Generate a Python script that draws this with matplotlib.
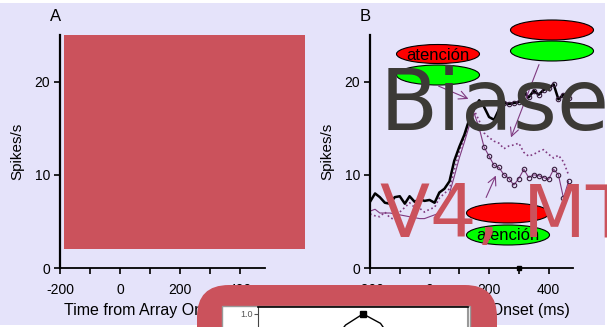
import numpy as np
import matplotlib
matplotlib.use("Agg")
import matplotlib.pyplot as plt
from matplotlib.patches import Ellipse, Rectangle, FancyBboxPatch, FancyArrowPatch

plt.rcParams['font.family'] = ['Liberation Sans', 'DejaVu Sans']

# ---------------- data ----------------
t_ms = [-200, -183, -167, -150, -133, -117, -100, -83, -67, -50, -33, -17, 0,
        17, 33, 50, 67, 83, 100, 117, 133, 150, 167, 183, 200, 217, 233, 250,
        267, 283, 300, 317, 333, 350, 367, 383, 400, 417, 433, 450, 467]
black_rate = [7.1, 8.0, 7.6, 7.0, 6.9, 7.6, 7.7, 6.9, 7.7, 7.1, 7.4, 7.2, 7.3,
              7.0, 8.1, 8.5, 9.3, 11.5, 13.0, 14.3, 15.9, 17.2, 18.0, 17.3, 16.2,
              15.9, 17.0, 17.7, 17.6, 17.7, 17.8, 18.8, 18.3, 19.0, 18.6, 19.1,
              19.3, 19.7, 18.1, 18.6, 18.2]
circle_rate = [6.1, 6.3, 5.9, 5.9, 5.9, 5.8, 5.7, 5.6, 5.5, 5.4, 5.3, 5.3, 5.5,
               5.7, 5.9, 6.6, 8.0, 9.8, 11.8, 13.5, 15.2, 16.6, 15.0, 13.0, 12.0,
               11.0, 10.8, 10.0, 9.6, 8.9, 9.6, 10.6, 9.7, 10.0, 9.9, 9.7, 9.5,
               10.6, 10.0, 7.5, 9.3]
dotted_rate = [5.8, 5.6, 5.5, 6.0, 5.4, 5.2, 6.0, 6.5, 7.0, 6.5, 6.4, 6.0, 6.3,
               6.5, 7.5, 8.0, 8.5, 10.5, 12.5, 14.0, 15.5, 16.9, 15.8, 14.5, 14.0,
               13.6, 13.4, 12.8, 13.1, 13.2, 13.4, 12.4, 12.0, 12.2, 12.5, 12.7,
               12.2, 11.8, 12.1, 11.4, 10.0]
x_ticks = [-200, -100, 0, 100, 200, 300, 400]
x_ticklabels = ['-200', '', '0', '', '200', '', '400']
y_ticks = [0, 10, 20]
inset_dirs = [-90, -60, -30, 0, 30, 60, 90]
inset_resp = [0.3, 0.6, 0.87, 1.0, 0.89, 0.6, 0.3]

# ---------------- figure ----------------
W, H = 607, 327
fig = plt.figure(figsize=(W / 100, H / 100), dpi=100, facecolor='white')
T = fig.dpi_scale_trans


def P(x, y):
    return (x / 100.0, (H - y) / 100.0)


LAV = '#E5E3FA'
PURP = '#7F3A80'
RED = '#CB525C'

fig.add_artist(Rectangle(P(0, 325), 605 / 100, 322 / 100, transform=T,
                         facecolor=LAV, edgecolor='none', zorder=-10))


def style_axes(ax):
    ax.set_facecolor('none')
    for s in ['top', 'right']:
        ax.spines[s].set_visible(False)
    ax.spines['left'].set_linewidth(1.6)
    ax.spines['bottom'].set_linewidth(1.3)
    ax.set_xlim(-200, 482)
    ax.set_ylim(0, 25)
    ax.set_xticks(x_ticks)
    ax.set_xticklabels(x_ticklabels)
    ax.set_yticks(y_ticks)
    ax.tick_params(axis='x', direction='out', length=4, width=1.2, pad=7, labelsize=10)
    ax.tick_params(axis='y', direction='out', length=4, width=1.2, pad=3, labelsize=10)
    ax.set_xlabel('Time from Array Onset (ms)', fontsize=11.5)
    ax.set_ylabel('Spikes/s', fontsize=11)
    ax.xaxis.set_label_coords(0.5, -0.152)
    ax.yaxis.set_label_coords(-0.176, 0.5)


axA = fig.add_axes([60 / W, (H - 268) / H, 205 / W, 233 / H])
axB = fig.add_axes([370 / W, (H - 268) / H, 203 / W, 233 / H])
style_axes(axA)
style_axes(axB)

axB.plot(t_ms, dotted_rate, color=PURP, lw=1.2, ls=(0, (1, 1.6)))
axB.plot(t_ms, circle_rate, color=PURP, lw=0.8, marker='o', ms=3.2,
         mfc='none', mec='#3a2040', mew=0.8, markevery=list(range(22, 41)))
axB.plot(t_ms, black_rate, color='black', lw=1.8, marker='o', ms=3.2,
         mfc='none', mec='#3a2040', mew=0.8, markevery=list(range(27, 41)))
axB.plot([300], [0], marker='s', ms=3, color='black', clip_on=False)

fig.text(*P(50, 21), 'A', transform=T, fontsize=12, ha='left', va='baseline')
fig.text(*P(360, 21), 'B', transform=T, fontsize=12, ha='left', va='baseline')

# red block over panel A
fig.add_artist(Rectangle(P(64, 249), (305 - 64) / 100, (249 - 35) / 100,
                         transform=T, facecolor=RED, edgecolor='none', zorder=5))


# ellipses
def ell(cx, cy, w, h, color, label=None):
    fig.add_artist(Ellipse(P(cx, cy), w / 100, h / 100, transform=T,
                           facecolor=color, edgecolor='black', lw=0.8, zorder=2))
    if label:
        fig.text(*P(cx, cy + 1), label, transform=T, fontsize=12, ha='center',
                 va='center', zorder=2.5)


ell(438, 54, 83, 19, '#FF0000', 'atención')
ell(438, 75, 83, 20, '#00FF00')
ell(552, 30, 83, 20, '#FF0000')
ell(552, 51, 83, 20, '#00FF00')
ell(508, 213, 83, 20, '#FF0000')
ell(508, 235, 83, 20, '#00FF00', 'atención')

# arrows
for a, b in [((436, 85), (471, 100)), ((540, 62), (510, 140)), ((485, 200), (497, 173))]:
    fig.add_artist(FancyArrowPatch(P(*a), P(*b), transform=T,
                                   arrowstyle='->,head_length=6,head_width=3',
                                   color=PURP, lw=0.8, zorder=2.6))

# overlay texts
fig.text(*P(380, 130), 'Biase', transform=T, fontsize=61, color='#3C3A36',
         family='DejaVu Sans', ha='left', va='baseline', zorder=4)
fig.text(*P(380.5, 237), 'V4, MT', transform=T, fontsize=52.7, color=RED,
         family='DejaVu Sans', ha='left', va='baseline', zorder=4.5)

# bottom rounded red block with inset picture
fig.add_artist(FancyBboxPatch(P(197, 380), 3.0, 0.95, transform=T,
                              boxstyle='round,pad=0,rounding_size=0.32',
                              facecolor=RED, edgecolor='none', zorder=8))
fig.add_artist(Rectangle(P(222, 360), (470 - 222) / 100, (360 - 306) / 100,
                         transform=T, facecolor='white', edgecolor='#999999',
                         lw=1.0, zorder=9))

ax_in = fig.add_axes([258 / W, (H - 400) / H, 210 / W, 93 / H], zorder=10)
ax_in.set_facecolor('white')
ax_in.plot(inset_dirs, inset_resp, color='black', lw=1.0, marker='s', ms=4,
           markevery=[3])
ax_in.set_xlim(-180, 180)
ax_in.set_ylim(0, 1.08)
ax_in.set_xticks([])
ax_in.set_yticks([1.0])
ax_in.set_yticklabels(['1.0'])
ax_in.tick_params(axis='y', labelsize=6.5, labelcolor='#555555', color='#555555',
                  length=3, pad=1)
ax_in.spines['left'].set_color('#444444')
ax_in.spines['top'].set_color('black')
ax_in.spines['top'].set_linewidth(1.2)
ax_in.spines['right'].set_color('#999999')
ax_in.spines['right'].set_linewidth(1.5)

fig.savefig('out.png', dpi=100, facecolor='white')
